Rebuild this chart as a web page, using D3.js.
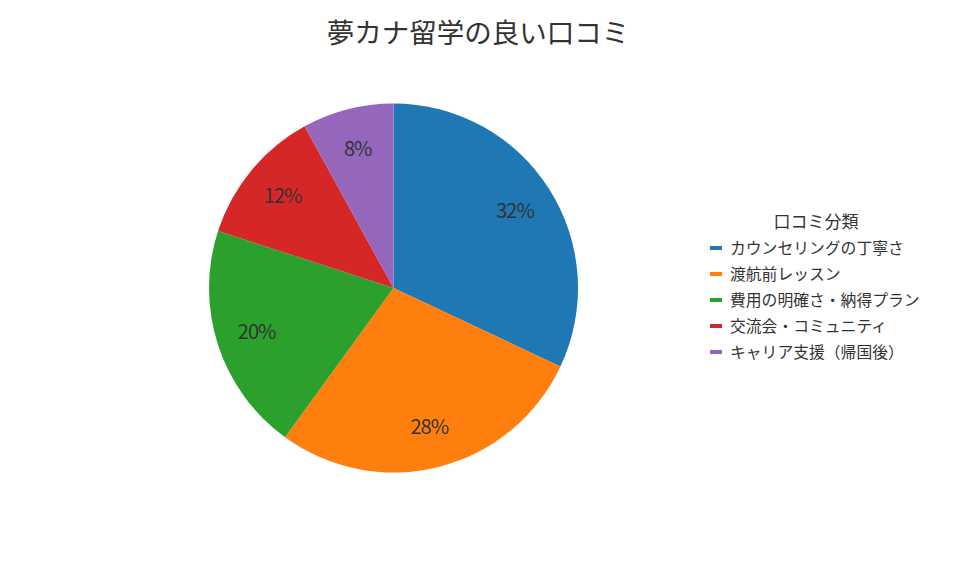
<!DOCTYPE html>
<html>
<head>
<meta charset="utf-8">
<script src="https://cdn.jsdelivr.net/npm/d3@7"></script>
<style>
  body { margin: 0; background: #fff; }
  text { font-family: "Noto Sans CJK JP", "Noto Sans", sans-serif; }
</style>
</head>
<body>
<div id="chart"></div>
<script>
const categories = ['カウンセリングの丁寧さ', '渡航前レッスン', '費用の明確さ・納得プラン', '交流会・コミュニティ', 'キャリア支援（帰国後）'];
const shares = [32, 28, 20, 12, 8];
const colors = ['#1f77b4', '#ff7f0e', '#2ca02c', '#d62728', '#9467bd'];

const width = 960, height = 576;
const center = {x: 393.5, y: 288};
const radius = 184.5;

const svg = d3.select('#chart')
  .append('svg')
  .attr('width', width)
  .attr('height', height);

svg.append('text')
  .attr('x', 478)
  .attr('y', 43)
  .attr('text-anchor', 'middle')
  .attr('font-size', 27.5)
  .attr('fill', '#333')
  .text('夢カナ留学の良い口コミ');

const data = categories.map((c, i) => ({name: c, value: shares[i], color: colors[i]}));
const pie = d3.pie().sort(null).value(d => d.value);
const arc = d3.arc().innerRadius(0).outerRadius(radius);
const labelArc = d3.arc().innerRadius(radius * 0.78).outerRadius(radius * 0.78);

const g = svg.append('g')
  .attr('transform', `translate(${center.x}, ${center.y})`);

const slices = pie(data);
g.selectAll('path')
  .data(slices)
  .enter()
  .append('path')
  .attr('d', arc)
  .attr('fill', d => d.data.color);

g.selectAll('text.label')
  .data(slices)
  .enter()
  .append('text')
  .attr('class', 'label')
  .attr('transform', d => `translate(${labelArc.centroid(d)})`)
  .attr('text-anchor', 'middle')
  .attr('dy', '0.35em')
  .attr('font-size', 20)
  .attr('letter-spacing', -1)
  .attr('fill', '#333')
  .text(d => d.data.value + '%');

const legend = svg.append('g')
  .attr('transform', 'translate(710, 0)');

legend.append('text')
  .attr('x', 106)
  .attr('y', 228)
  .attr('text-anchor', 'middle')
  .attr('font-size', 17)
  .attr('fill', '#333')
  .text('口コミ分類');

const item = legend.selectAll('g.item')
  .data(data)
  .enter()
  .append('g')
  .attr('class', 'item')
  .attr('transform', (d, i) => `translate(0, ${248 + i * 26})`);

item.append('rect')
  .attr('x', 0)
  .attr('y', -2)
  .attr('width', 12)
  .attr('height', 4)
  .attr('fill', d => d.color);

item.append('text')
  .attr('x', 20)
  .attr('dy', '0.35em')
  .attr('font-size', 15.8)
  .attr('fill', '#333')
  .text(d => d.name);
</script>
</body>
</html>
